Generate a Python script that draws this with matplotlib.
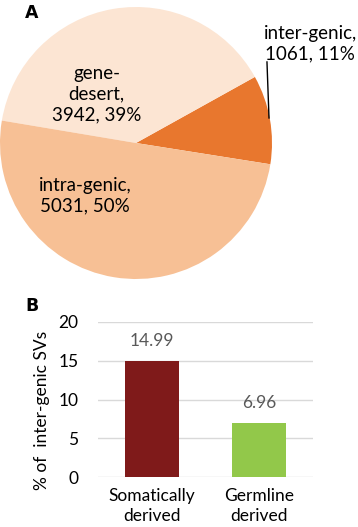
import matplotlib.pyplot as plt

plt.rcParams['font.family'] = ['Lato', 'DejaVu Sans']

# panel A data
regions = ['inter-genic', 'gene-desert', 'intra-genic']
counts = [1061, 3942, 5031]
pcts = [11, 39, 50]
pie_colors = ['#E8772E', '#FCE5D3', '#F7C095']

# panel B data
groups = ['Somatically\nderived', 'Germline\nderived']
inter_pct = [14.99, 6.96]
bar_colors = ['#7F1A1A', '#92C84A']

fig = plt.figure(figsize=(3.58, 5.27), dpi=100)

# --- pie ---
ax1 = fig.add_axes([0.0, 248 / 527, 272 / 358, 272 / 527])
ax1.pie(counts, colors=pie_colors, startangle=-9, counterclock=True,
        wedgeprops=dict(linewidth=0))
ax1.set_xlim(-1, 1)
ax1.set_ylim(-1, 1)
ax1.set_aspect('auto')
ax1.axis('off')

lbl_pos = [(1.28, 0.73), (-0.29, 0.36), (-0.375, -0.39)]
for name, c, p, (x, y) in zip(regions, counts, pcts, lbl_pos):
    if name == 'gene-desert':
        txt = 'gene-\ndesert,\n%d, %d%%' % (c, p)
    else:
        txt = '%s,\n%d, %d%%' % (name, c, p)
    ax1.text(x, y, txt, ha='center', va='center', fontsize=13.5,
             linespacing=1.25, clip_on=False)
ax1.plot([0.963, 0.978], [0.596, 0.184], color='black', lw=1, clip_on=False)

fig.text(25 / 358, 1 - 4 / 527, 'A', fontsize=12.5, fontweight='bold',
         family='DejaVu Sans', va='top', ha='left')

# --- bars ---
ax2 = fig.add_axes([98 / 358, 50 / 527, 215 / 358, 155 / 527])
xs = range(len(groups))
ax2.bar(xs, inter_pct, width=0.5, color=bar_colors, zorder=3)
for x, v in zip(xs, inter_pct):
    ax2.text(x, v + 2.57, '%.2f' % v, ha='center', va='center',
             fontsize=12.5, color='#595959')
ax2.set_xlim(-0.5, 1.5)
ax2.set_ylim(0, 20)
ax2.set_yticks([0, 5, 10, 15, 20])
ax2.set_xticks(list(xs))
ax2.set_xticklabels(groups, fontsize=12.5, linespacing=1.3)
ax2.tick_params(axis='y', length=0, pad=14, labelsize=12.5)
ax2.tick_params(axis='x', length=0, pad=8)
ax2.grid(axis='y', color='#D9D9D9', lw=1, zorder=0)
for s in ax2.spines.values():
    s.set_visible(False)

fig.text(42 / 358, 1 - 410 / 527, '% of  inter-genic SVs', rotation=90,
         fontsize=12.5, ha='center', va='center')
fig.text(25 / 358, 1 - 297 / 527, 'B', fontsize=12.5, fontweight='bold',
         family='DejaVu Sans', va='top', ha='left')

fig.savefig('out.png', dpi=100)
